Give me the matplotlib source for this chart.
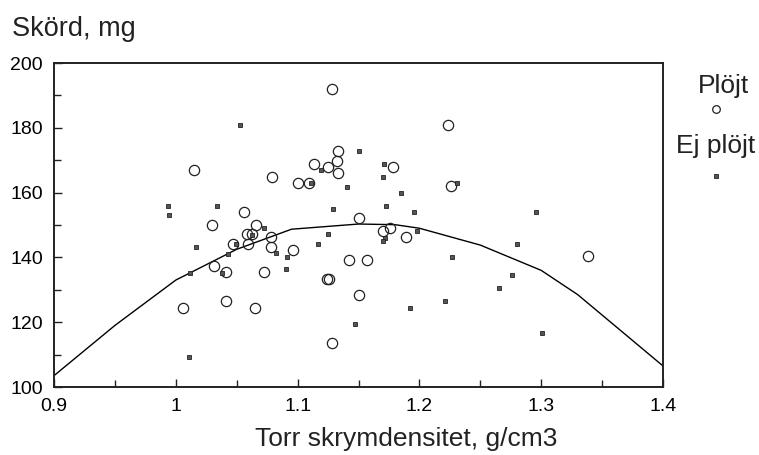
import matplotlib
matplotlib.use('Agg')
import matplotlib.pyplot as plt
import numpy as np

plt.rcParams['font.family'] = ['Liberation Sans', 'DejaVu Sans']

# Plöjt (open circles)
plojtX = [1.0147, 1.056, 1.0295, 1.0585, 1.0623, 1.0656, 1.0472, 1.059, 1.0314, 1.0415,
          1.0059, 1.041, 1.0648, 1.1285, 1.2235, 1.1334, 1.1321, 1.1135, 1.1247, 1.1334,
          1.1781, 1.0787, 1.1003, 1.1096, 1.2257, 1.1507, 1.0779, 1.0779, 1.096, 1.1699,
          1.1759, 1.1888, 1.142, 1.1567, 1.0727, 1.1239, 1.126, 1.1507, 1.1285, 1.3382]
plojtY = [166.9, 153.9, 150.1, 147.1, 147.1, 150.1, 144.2, 144.1, 137.3, 135.4,
          124.5, 126.5, 124.5, 191.9, 181.0, 172.8, 169.8, 168.8, 167.9, 166.0,
          167.9, 164.9, 162.9, 162.9, 161.9, 152.1, 146.2, 143.2, 142.2, 148.1,
          149.1, 146.2, 139.2, 139.2, 135.4, 133.3, 133.3, 128.4, 113.5, 140.4]

# Ej plöjt (small filled squares)
ejX = [1.0527, 0.9936, 0.9947, 1.0338, 1.0168, 1.0114, 1.0106, 1.0431, 1.0382, 1.0497,
       1.0623, 1.1504, 1.119, 1.1709, 1.1701, 1.1408, 1.111, 1.1847, 1.1723, 1.1291,
       1.1958, 1.0722, 1.1978, 1.1252, 1.1715, 1.1699, 1.117, 1.0825, 1.0913, 1.0902,
       1.2265, 1.2213, 1.1925, 1.1474, 1.2309, 1.2955, 1.2801, 1.2763, 1.2654, 1.3009]
ejY = [180.8, 156.0, 153.0, 156.0, 143.1, 135.3, 109.4, 141.0, 135.3, 144.2,
       147.0, 172.8, 167.0, 168.8, 164.9, 161.8, 162.9, 160.0, 156.0, 155.0,
       154.0, 149.1, 148.1, 147.1, 146.1, 145.1, 144.2, 141.3, 140.2, 136.3,
       140.2, 126.5, 124.5, 119.4, 163.0, 154.1, 144.2, 134.5, 130.5, 116.8]

# fitted curve
curveX = [0.9, 0.95, 1.0, 1.05, 1.095, 1.15, 1.18, 1.2, 1.25, 1.3, 1.33, 1.4]
curveY = [103.5, 119, 133, 142.5, 148.7, 150.3, 150.1, 149.0, 143.8, 136.0, 128.5, 106.5]

xticks = [0.9, 1.0, 1.1, 1.2, 1.3, 1.4]
xticklabels = ['0.9', '1', '1.1', '1.2', '1.3', '1.4']
yticks = [100, 120, 140, 160, 180, 200]

W, H = 759, 455
fig = plt.figure(figsize=(W/100, H/100), dpi=100)
ax = fig.add_axes([54/W, 1-387/H, (663-54)/W, (387-63)/H])

ax.plot(curveX, curveY, color='black', lw=1.0, zorder=2)
ax.plot(plojtX, plojtY, 'o', ms=7.4, mfc='none', mec='#222222', mew=0.9, zorder=3)
ax.plot(ejX, ejY, 's', ms=3.5, mfc='#555555', mec='#222222', mew=0.6, zorder=4)

ax.set_xlim(0.9, 1.4)
ax.set_ylim(100, 200)
ax.set_xticks(xticks)
ax.set_xticklabels(xticklabels)
ax.set_xticks(np.arange(0.95, 1.4, 0.1), minor=True)
ax.set_yticks(yticks)
ax.set_yticks(np.arange(110, 200, 20), minor=True)
ax.tick_params(which='both', direction='in', top=False, right=False,
               labelsize=14, color='#222222')
ax.tick_params(which='major', length=6, width=1)
ax.tick_params(which='minor', length=5, width=1)
ax.tick_params(axis='x', pad=8)
ax.tick_params(axis='y', pad=8)
for s in ax.spines.values():
    s.set_linewidth(1.4)
    s.set_color('#222222')

fig.text(12/W, 1-36/H, 'Skörd, mg', fontsize=19.5, va='baseline', ha='left', color='#222222')
fig.text(406/W, 1-446/H, 'Torr skrymdensitet, g/cm3', fontsize=19, va='baseline', ha='center', color='#222222')

# legend, label above marker
fig.text(723/W, 1-86/H, 'Plöjt', fontsize=19, va='center', ha='center', color='#222222')
fig.text(716/W, 1-146/H, 'Ej plöjt', fontsize=19, va='center', ha='center', color='#222222')
ax.plot([716/W], [1-109/H], 'o', ms=5.5, mfc='none', mec='#222222', mew=0.9,
        transform=fig.transFigure, clip_on=False)
ax.plot([716/W], [1-176/H], 's', ms=3.5, mfc='#555555', mec='#222222', mew=0.6,
        transform=fig.transFigure, clip_on=False)

fig.savefig('out.png', dpi=100)
